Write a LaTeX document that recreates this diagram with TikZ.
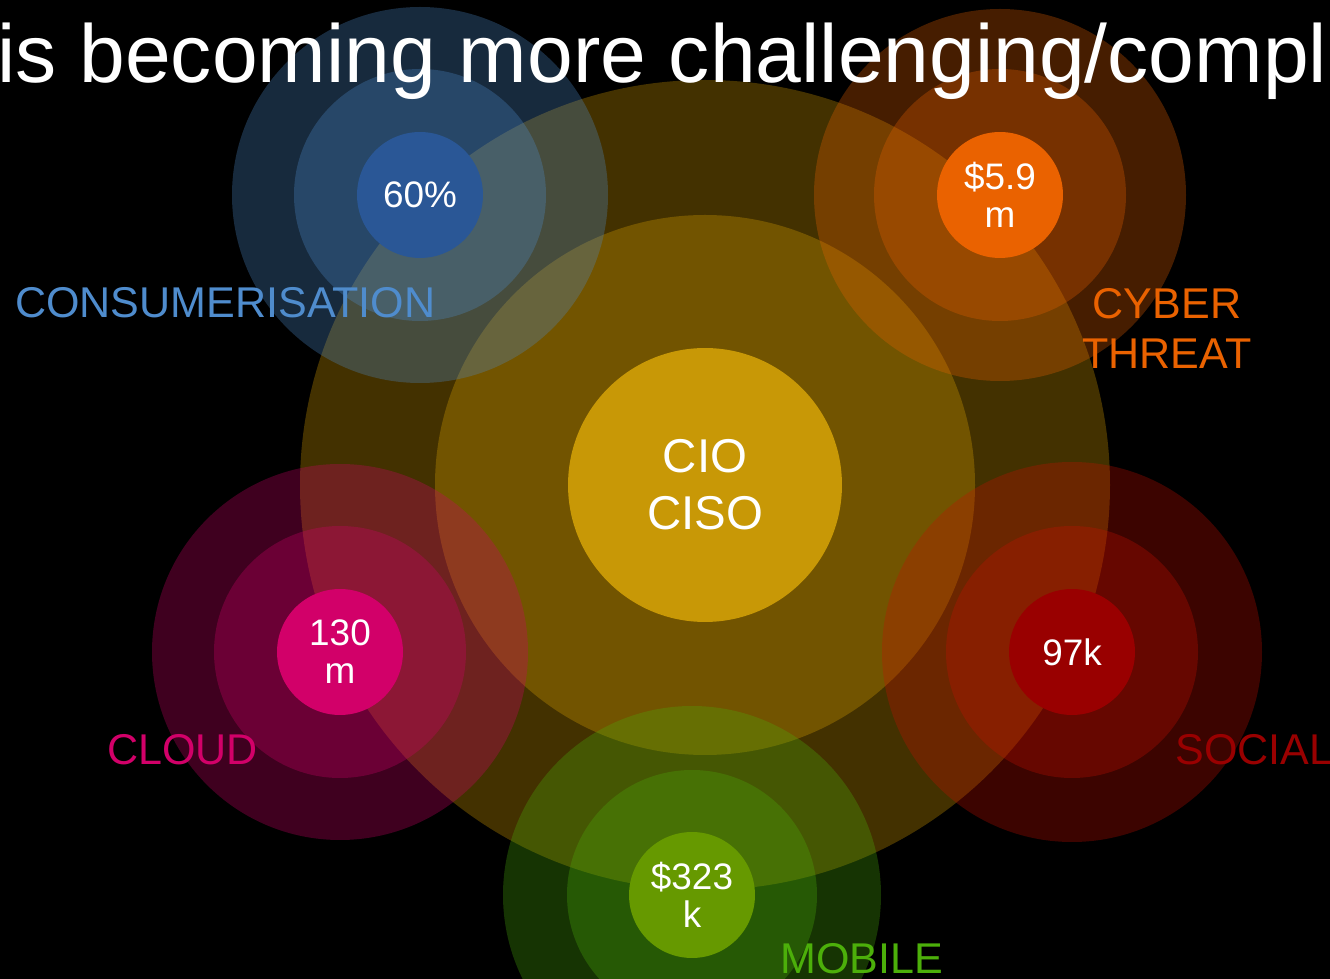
\documentclass[tikz,border=0pt]{standalone}
\usepackage{fontspec}
\setmainfont{Liberation Sans}
\usetikzlibrary{positioning}

\definecolor{consumblue}{RGB}{42,87,150}
\definecolor{consumlight}{RGB}{79,140,205}
\definecolor{cyberorange}{RGB}{234,98,0}
\definecolor{cioyellow}{RGB}{200,152,6}
\definecolor{cioglow}{RGB}{225,165,0}
\definecolor{cloudpink}{RGB}{210,0,105}
\definecolor{socialred}{RGB}{153,0,0}
\definecolor{socialglow}{RGB}{200,15,0}
\definecolor{mobilegreen}{RGB}{102,153,0}
\definecolor{mobilelight}{RGB}{76,175,10}

\begin{document}
\begin{tikzpicture}[
        x=0.02cm, y=0.02cm,
        hub/.style={circle, fill=#1, text=white, align=center, minimum size=2.52cm, inner sep=0pt, font=\fontsize{21}{21.5}\selectfont},
        halo/.style={fill=#1, fill opacity=0.3},
        tag/.style={text=#1, inner sep=0pt, align=center, font=\fontsize{24.5}{29}\selectfont},
    ]

    % Background
    \fill[black] (0,0) rectangle (1330,-979);
    \useasboundingbox (0,0) rectangle (1330,-979);

    % Centres
    \coordinate (pcio) at (705,-485);
    \coordinate (pconsum) at (420,-195);
    \coordinate (pcyber) at (1000,-195);
    \coordinate (pcloud) at (340,-652);
    \coordinate (psocial) at (1072,-652);
    \coordinate (pmobile) at (692,-895);

    % Halos
    \fill[halo=cioglow] (pcio) circle (405);
    \fill[halo=cioglow] (pcio) circle (270);
    \fill[halo=consumlight] (pconsum) circle (188);
    \fill[halo=consumlight] (pconsum) circle (126);
    \fill[halo=cyberorange] (pcyber) circle (186);
    \fill[halo=cyberorange] (pcyber) circle (126);
    \fill[halo=cloudpink] (pcloud) circle (188);
    \fill[halo=cloudpink] (pcloud) circle (126);
    \fill[halo=socialglow] (psocial) circle (190);
    \fill[halo=socialglow] (psocial) circle (126);
    \fill[halo=mobilelight] (pmobile) circle (189);
    \fill[halo=mobilelight] (pmobile) circle (125);

    % Nodes
    \node[hub=cioyellow, minimum size=5.48cm, font=\fontsize{27}{32.3}\selectfont] (cio) at (pcio) {CIO\\CISO};
    \node[hub=consumblue] (consum) at (pconsum) {60\%};
    \node[hub=cyberorange] (cyber) at (pcyber) {\$5.9\\m};
    \node[hub=cloudpink] (cloud) at (pcloud) {130\\m};
    \node[hub=socialred] (social) at (psocial) {97k};
    \node[hub=mobilegreen] (mobile) at (pmobile) {\$323\\k};

    % Labels
    \node[tag=consumlight, anchor=base west] (consumtag) at (15,-318) {CONSUMERISATION};
    \node[tag=cyberorange, anchor=base] (cybertag) at (1167,-369) {CYBER\\THREAT};
    \node[tag=cloudpink, anchor=base west] (cloudtag) at (107,-765) {CLOUD};
    \node[tag=socialred, anchor=base west] (socialtag) at (1175,-765) {SOCIAL};
    \node[tag=mobilelight, anchor=base west] (mobiletag) at (780,-973) {MOBILE};

    % Title
    \node[anchor=base west, inner sep=0pt, text=white, font=\fontsize{46.8}{50}\selectfont] (title) at (-3,-83) {is becoming more challenging/compl};

\end{tikzpicture}
\end{document}
